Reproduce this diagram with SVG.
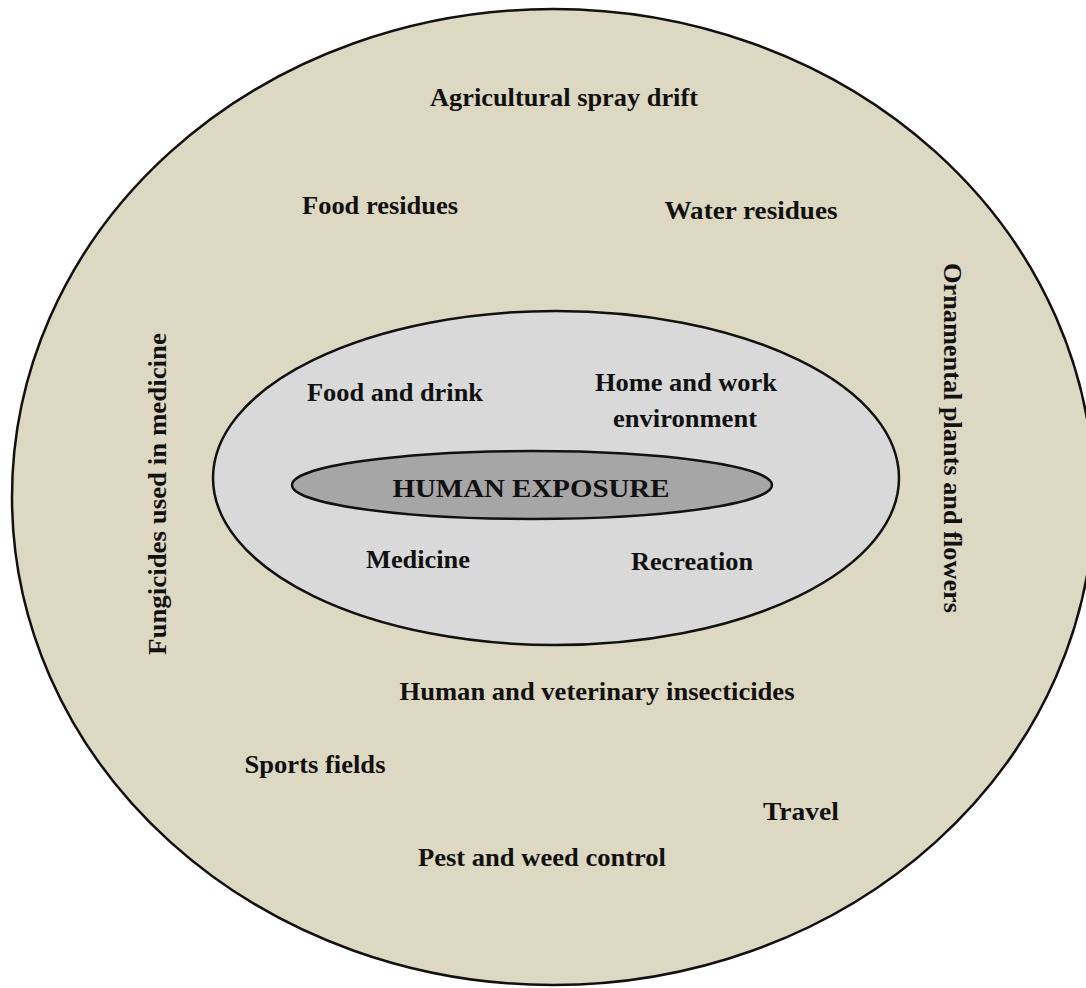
<svg xmlns="http://www.w3.org/2000/svg" width="1086" height="988" viewBox="0 0 1086 988">
<style>
.lbl{font-family:"Liberation Serif","Times New Roman",serif;font-weight:bold;font-size:26px;fill:#111;text-anchor:middle}
.ring{stroke:#111;stroke-width:2.5}
</style>
<rect width="1086" height="988" fill="#ffffff"/>
<g id="outer">
<ellipse class="ring" cx="553" cy="497" rx="541" ry="488" fill="#ddd8c2"/>
<text class="lbl" x="564" y="106" textLength="268" lengthAdjust="spacingAndGlyphs">Agricultural spray drift</text>
<text class="lbl" x="380" y="214" textLength="156" lengthAdjust="spacingAndGlyphs">Food residues</text>
<text class="lbl" x="751" y="219" textLength="173" lengthAdjust="spacingAndGlyphs">Water residues</text>
<text class="lbl" transform="translate(166,494) rotate(-90)" x="0" y="0" textLength="322" lengthAdjust="spacingAndGlyphs">Fungicides used in medicine</text>
<text class="lbl" transform="translate(944,438) rotate(90)" x="0" y="0" textLength="350" lengthAdjust="spacingAndGlyphs">Ornamental plants and flowers</text>
<text class="lbl" x="597" y="700" textLength="395" lengthAdjust="spacingAndGlyphs">Human and veterinary insecticides</text>
<text class="lbl" x="315" y="773" textLength="141" lengthAdjust="spacingAndGlyphs">Sports fields</text>
<text class="lbl" x="801" y="820" textLength="76" lengthAdjust="spacingAndGlyphs">Travel</text>
<text class="lbl" x="542" y="866" textLength="248" lengthAdjust="spacingAndGlyphs">Pest and weed control</text>
</g>
<g id="middle">
<ellipse class="ring" cx="556" cy="478" rx="343" ry="167" fill="#d9d9d9"/>
<text class="lbl" x="395" y="401" textLength="176" lengthAdjust="spacingAndGlyphs">Food and drink</text>
<text class="lbl" x="686" y="391" textLength="182" lengthAdjust="spacingAndGlyphs">Home and work</text>
<text class="lbl" x="685" y="427" textLength="144" lengthAdjust="spacingAndGlyphs">environment</text>
<text class="lbl" x="418" y="568" textLength="104" lengthAdjust="spacingAndGlyphs">Medicine</text>
<text class="lbl" x="692" y="570" textLength="122" lengthAdjust="spacingAndGlyphs">Recreation</text>
</g>
<g id="core">
<ellipse class="ring" cx="532" cy="485" rx="240" ry="34" fill="#a6a6a6"/>
<text class="lbl" x="531" y="497" font-size="28" textLength="277" lengthAdjust="spacingAndGlyphs">HUMAN EXPOSURE</text>
</g>
<g id="connectors"/>
</svg>
